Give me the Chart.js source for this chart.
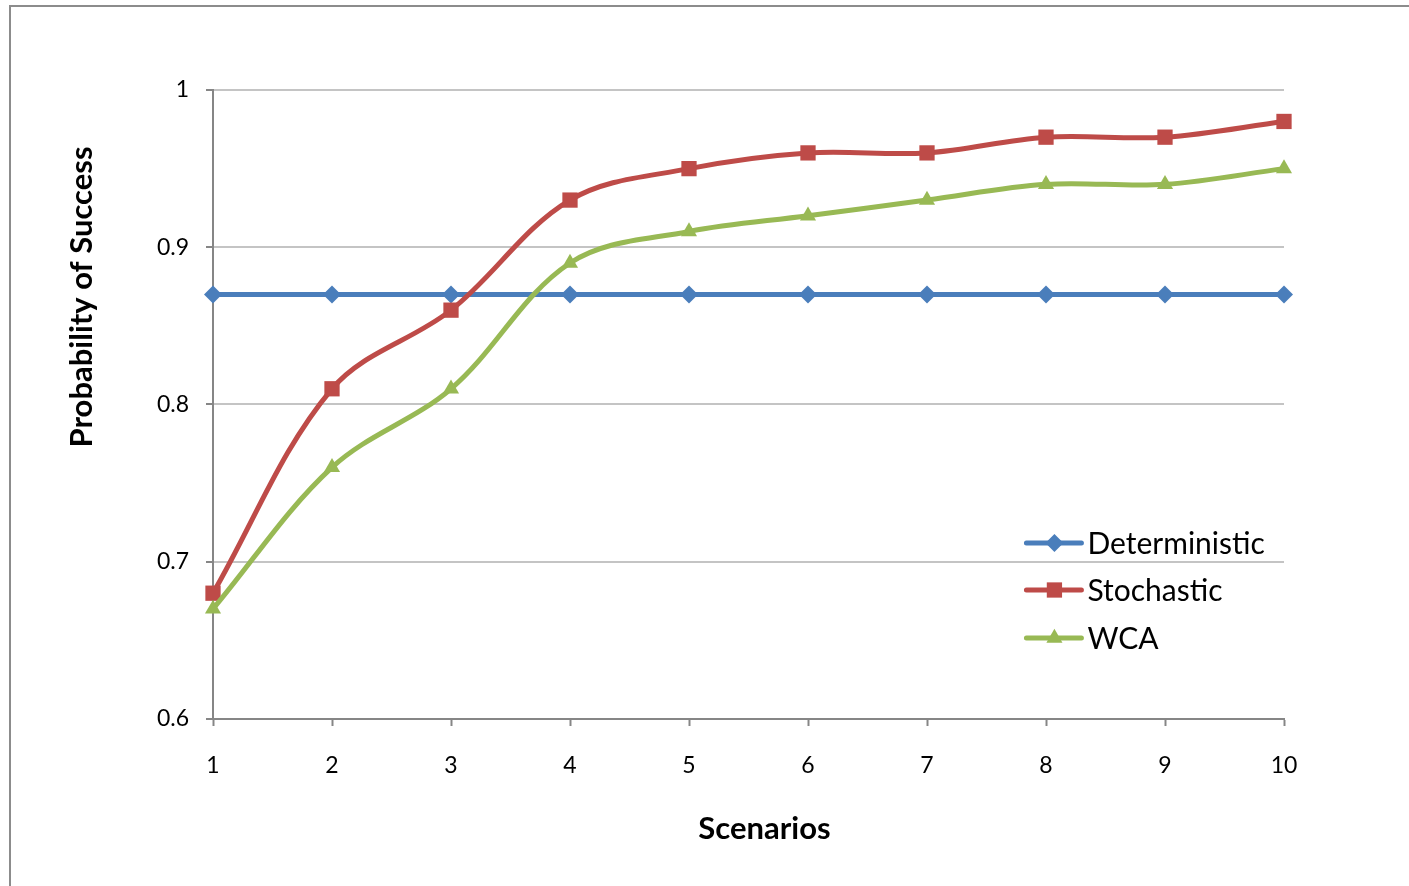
<!DOCTYPE html>
<html>
<head>
<meta charset="utf-8">
<script src="https://cdn.jsdelivr.net/npm/chart.js@4/dist/chart.umd.min.js"></script>
<style>
  html, body { margin: 0; padding: 0; background: #ffffff; }
  #wrap { position: absolute; left: 0; top: 0; width: 1409px; height: 886px; }
</style>
</head>
<body>
<div id="wrap"><canvas id="c" width="1409" height="886"></canvas></div>
<script>
const scenarios = ['1', '2', '3', '4', '5', '6', '7', '8', '9', '10'];
const deterministic = [0.87, 0.87, 0.87, 0.87, 0.87, 0.87, 0.87, 0.87, 0.87, 0.87];
const stochastic = [0.68, 0.81, 0.86, 0.93, 0.95, 0.96, 0.96, 0.97, 0.97, 0.98];
const wca = [0.67, 0.76, 0.81, 0.89, 0.91, 0.92, 0.93, 0.94, 0.94, 0.95];
const yTickValues = [0.6, 0.7, 0.8, 0.9, 1];
const yTickLabels = ['0.6', '0.7', '0.8', '0.9', '1'];
const seriesNames = ['Deterministic', 'Stochastic', 'WCA'];
const xTitle = 'Scenarios';
const yTitle = 'Probability of Success';

const COLORS = ['#4a7ebb', '#be4b48', '#98b954'];
const STYLES = ['rectRot', 'rect', 'triangle'];
const RADII = [9, 10.8, 9.3];
const AXIS = '#868686';
const GRID = '#c4c4c4';
const FONT = 'Lato, "Open Sans", sans-serif';

function marker(ctx, style, r, x, y, color) {
  ctx.save();
  ctx.fillStyle = color;
  ctx.beginPath();
  if (style === 'rectRot') {
    ctx.moveTo(x, y - r); ctx.lineTo(x + r, y); ctx.lineTo(x, y + r); ctx.lineTo(x - r, y);
  } else if (style === 'rect') {
    const s = r * Math.SQRT1_2;
    ctx.rect(x - s, y - s, 2 * s, 2 * s);
  } else {
    const a = Math.PI * 2 / 3;
    ctx.moveTo(x, y - r);
    ctx.lineTo(x + Math.sin(a) * r, y - Math.cos(a) * r);
    ctx.lineTo(x - Math.sin(a) * r, y - Math.cos(a) * r);
  }
  ctx.closePath();
  ctx.fill();
  ctx.restore();
}

const decor = {
  id: 'decor',
  beforeDraw(chart) {
    const ctx = chart.ctx;
    ctx.save();
    ctx.fillStyle = '#ffffff';
    ctx.fillRect(0, 0, chart.width, chart.height);
    ctx.strokeStyle = '#8c8c8c';
    ctx.lineWidth = 2;
    ctx.strokeRect(10, 6, chart.width + 20, chart.height + 20);
    ctx.restore();
  },
  afterDraw(chart) {
    const ctx = chart.ctx;
    const area = chart.chartArea;
    ctx.save();
    // axis titles
    ctx.fillStyle = '#000000';
    ctx.font = 'bold 31px ' + FONT;
    ctx.textAlign = 'center';
    ctx.textBaseline = 'middle';
    ctx.fillText(xTitle, area.left + (area.right - area.left) * 0.5 + 16, 829);
    ctx.save();
    ctx.translate(82, area.top + (area.bottom - area.top) * 0.329);
    ctx.rotate(-Math.PI / 2);
    ctx.fillText(yTitle, 0, 0);
    ctx.restore();
    // legend
    const lx0 = area.left + (area.right - area.left) * 0.7595;
    const rows = [543, 590, 638];
    ctx.font = '30px ' + FONT;
    ctx.textAlign = 'left';
    for (let i = 0; i < 3; i++) {
      const y = rows[i];
      ctx.strokeStyle = COLORS[i];
      ctx.lineWidth = 5;
      ctx.lineCap = 'round';
      ctx.beginPath();
      ctx.moveTo(lx0, y);
      ctx.lineTo(lx0 + 55, y);
      ctx.stroke();
      marker(ctx, STYLES[i], RADII[i], lx0 + 28, y, COLORS[i]);
      ctx.fillStyle = '#000000';
      ctx.fillText(seriesNames[i], lx0 + 61, y + 1);
    }
    ctx.restore();
  }
};

const seriesData = [deterministic, stochastic, wca];
const datasets = seriesData.map((d, i) => ({
  label: seriesNames[i],
  data: d,
  borderColor: COLORS[i],
  backgroundColor: COLORS[i],
  pointBackgroundColor: COLORS[i],
  pointBorderColor: COLORS[i],
  pointBorderWidth: 0,
  pointStyle: STYLES[i],
  pointRadius: RADII[i],
  pointHoverRadius: RADII[i],
  borderWidth: 5,
  tension: 0.35,
  fill: false,
  clip: false,
  order: 3 - i
}));

new Chart(document.getElementById('c'), {
  type: 'line',
  data: { labels: scenarios, datasets },
  options: {
    responsive: false,
    animation: false,
    devicePixelRatio: 1,
    layout: { padding: { left: 0, top: 90, right: 125, bottom: 0 } },
    plugins: { legend: { display: false }, tooltip: { enabled: false }, title: { display: false } },
    scales: {
      x: {
        type: 'category',
        offset: false,
        grid: { display: true, drawOnChartArea: false, drawTicks: true, tickLength: 7, tickColor: AXIS, tickWidth: 2, offset: false },
        border: { display: true, color: AXIS, width: 2 },
        ticks: { color: '#000000', font: { family: FONT, size: 23 }, padding: 26, maxRotation: 0, autoSkip: false },
        afterFit(scale) { scale.height = 167; }
      },
      y: {
        min: 0.6,
        max: 1,
        grid: { color: GRID, lineWidth: 2, drawTicks: true, tickLength: 7, tickColor: AXIS, tickWidth: 2 },
        border: { display: true, color: AXIS, width: 2 },
        ticks: {
          color: '#000000',
          font: { family: FONT, size: 23 },
          padding: 17,
          callback(value) {
            const k = yTickValues.findIndex(v => Math.abs(v - value) < 1e-9);
            return k >= 0 ? yTickLabels[k] : '';
          }
        },
        afterBuildTicks(scale) { scale.ticks = yTickValues.map(v => ({ value: v })); },
        afterFit(scale) { scale.width = 213; }
      }
    }
  },
  plugins: [decor]
});
</script>
</body>
</html>
